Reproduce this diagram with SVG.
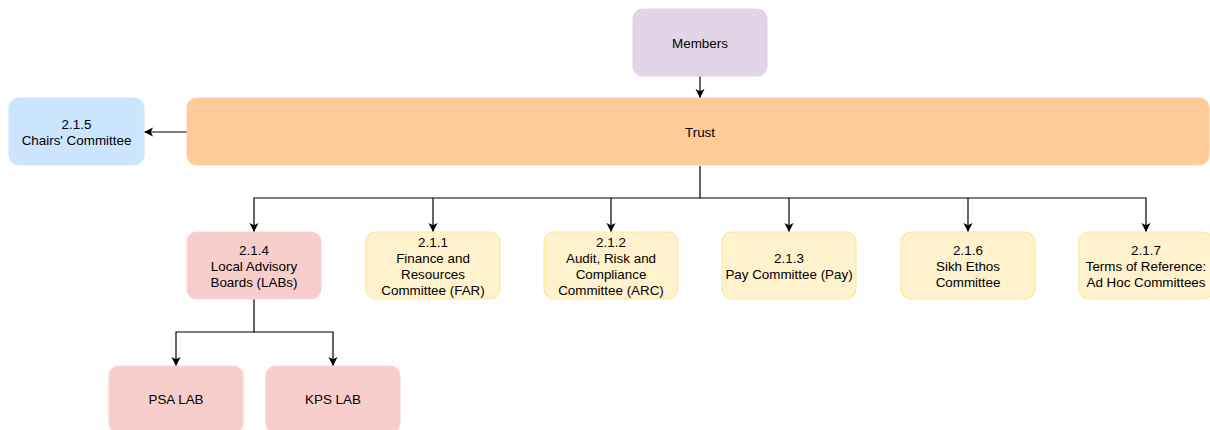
<svg xmlns="http://www.w3.org/2000/svg" width="1210" height="430" viewBox="0 0 1210 430">
<style>
.t{font-family:"Liberation Sans",Arial,sans-serif;font-size:13.4px;fill:#000;text-anchor:middle}
.c{fill:none;stroke:#000;stroke-width:1.2}
.purple{fill:#e1d5e7;stroke:#e6d3f0;stroke-width:1.2}
.orange{fill:#ffcc99;stroke:#ffd0a3;stroke-width:1.2}
.blue{fill:#cce5ff;stroke:#d3e7fb;stroke-width:1.2}
.red{fill:#f8cecc;stroke:#f9d4d2;stroke-width:1.2}
.yellow{fill:#fff2cc;stroke:#fbe99e;stroke-width:1.2}
</style>
<defs>
<marker id="arr" markerWidth="9" markerHeight="10" refX="9" refY="5" orient="auto" markerUnits="userSpaceOnUse">
<path d="M0,0.5 L9,5 L0,9.5 L2.2,5 z" fill="#000"/>
</marker>
</defs>
<rect width="1210" height="430" fill="#fff"/>
<g id="connectors">
<line class="c" x1="700" y1="76" x2="700" y2="98" marker-end="url(#arr)"/>
<line class="c" x1="187" y1="132" x2="144" y2="132" marker-end="url(#arr)"/>
<polyline class="c" points="700,166 700,198 254,198 254,232" marker-end="url(#arr)"/>
<polyline class="c" points="433,198 433,232" marker-end="url(#arr)"/>
<polyline class="c" points="611,198 611,232" marker-end="url(#arr)"/>
<polyline class="c" points="700,198 1146,198 1146,232" marker-end="url(#arr)"/>
<polyline class="c" points="789,198 789,232" marker-end="url(#arr)"/>
<polyline class="c" points="968,198 968,232" marker-end="url(#arr)"/>
<polyline class="c" points="254,299 254,332 176,332 176,366" marker-end="url(#arr)"/>
<polyline class="c" points="254,332 333,332 333,366" marker-end="url(#arr)"/>
</g>
<g id="members">
<rect class="purple" x="633" y="9" width="134" height="67" rx="10"/>
<text class="t" x="700" y="47.5">Members</text>
</g>
<g id="trust">
<rect class="orange" x="187" y="98" width="1022" height="67" rx="10"/>
<text class="t" x="700" y="136.5">Trust</text>
</g>
<g id="chairs">
<rect class="blue" x="9" y="98" width="135" height="67" rx="10"/>
<text class="t" x="76.5" y="128.5">2.1.5</text>
<text class="t" x="76.5" y="144.5">Chairs' Committee</text>
</g>
<g id="lab">
<rect class="red" x="187" y="232" width="134" height="67" rx="10"/>
<text class="t" x="254" y="254.5">2.1.4</text>
<text class="t" x="254" y="270.5">Local Advisory</text>
<text class="t" x="254" y="286.5">Boards (LABs)</text>
</g>
<g id="far">
<rect class="yellow" x="366" y="232" width="134" height="67" rx="10"/>
<text class="t" x="433" y="246.5">2.1.1</text>
<text class="t" x="433" y="262.5">Finance and</text>
<text class="t" x="433" y="278.5">Resources</text>
<text class="t" x="433" y="294.5">Committee (FAR)</text>
</g>
<g id="arc">
<rect class="yellow" x="544" y="232" width="134" height="67" rx="10"/>
<text class="t" x="611" y="246.5">2.1.2</text>
<text class="t" x="611" y="262.5">Audit, Risk and</text>
<text class="t" x="611" y="278.5">Compliance</text>
<text class="t" x="611" y="294.5">Committee (ARC)</text>
</g>
<g id="pay">
<rect class="yellow" x="722" y="232" width="134" height="67" rx="10"/>
<text class="t" x="789" y="262.5">2.1.3</text>
<text class="t" x="789" y="278.5">Pay Committee (Pay)</text>
</g>
<g id="sikh">
<rect class="yellow" x="901" y="232" width="134" height="67" rx="10"/>
<text class="t" x="968" y="254.5">2.1.6</text>
<text class="t" x="968" y="270.5">Sikh Ethos</text>
<text class="t" x="968" y="286.5">Committee</text>
</g>
<g id="adhoc">
<rect class="yellow" x="1079" y="232" width="134" height="67" rx="10"/>
<text class="t" x="1146" y="254.5">2.1.7</text>
<text class="t" x="1146" y="270.5">Terms of Reference:</text>
<text class="t" x="1146" y="286.5">Ad Hoc Committees</text>
</g>
<g id="psa">
<rect class="red" x="109" y="366" width="134" height="67" rx="10"/>
<text class="t" x="176" y="404">PSA LAB</text>
</g>
<g id="kps">
<rect class="red" x="266" y="366" width="134" height="67" rx="10"/>
<text class="t" x="333" y="404">KPS LAB</text>
</g>
</svg>
